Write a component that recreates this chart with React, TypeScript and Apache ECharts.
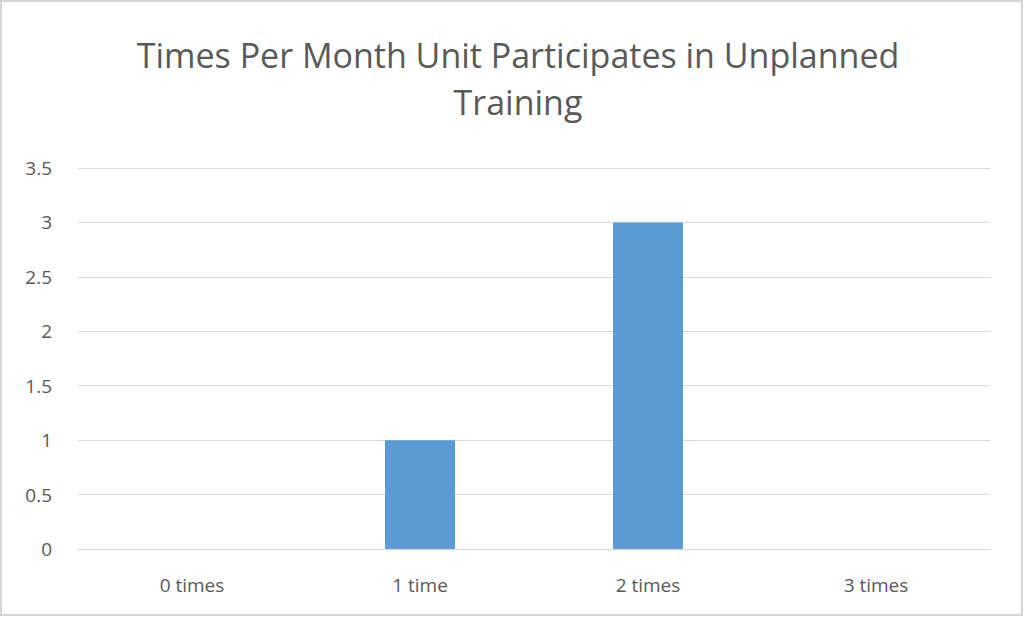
import React, { useEffect, useRef } from "react";
import * as echarts from "echarts";

const categories = ["0 times", "1 time", "2 times", "3 times"];
const values = [0, 1, 3, 0];
const titleLines = ["Times Per Month Unit Participates in Unplanned", "Training"];

export default function App() {
  const ref = useRef<HTMLDivElement>(null);
  useEffect(() => {
    document.body.style.margin = "0";
    const chart = echarts.init(ref.current!, null, { renderer: "svg" });
    chart.setOption({
      animation: false,
      backgroundColor: "#ffffff",
      graphic: [
        {
          type: "rect",
          z: -10,
          silent: true,
          shape: { x: 1, y: 1, width: 1021, height: 614 },
          style: { fill: "none", stroke: "#d4d4d4", lineWidth: 2 },
        },
      ],
      title: {
        text: titleLines.join("\n"),
        left: 513,
        top: 26,
        textAlign: "center",
        textStyle: {
          fontFamily: "Open Sans",
          fontSize: 34,
          fontWeight: "normal",
          color: "#595959",
          lineHeight: 47,
        },
      },
      grid: { left: 78, right: 34, top: 168, bottom: 68 },
      xAxis: {
        type: "category",
        data: categories,
        axisLine: { lineStyle: { color: "#d9d9d9", width: 1 } },
        axisTick: { show: false },
        axisLabel: { color: "#595959", fontSize: 19, fontFamily: "Open Sans", margin: 26 },
      },
      yAxis: {
        type: "value",
        min: 0,
        max: 3.5,
        interval: 0.5,
        axisLine: { show: false },
        axisTick: { show: false },
        axisLabel: { color: "#595959", fontSize: 19, fontFamily: "Open Sans", margin: 26 },
        splitLine: { lineStyle: { color: "#d9d9d9", width: 1 } },
      },
      series: [
        {
          type: "bar",
          data: values,
          barWidth: 70,
          itemStyle: { color: "#5b9bd5" },
        },
      ],
    });
    return () => chart.dispose();
  }, []);
  return (
    <div
      ref={ref}
      style={{ position: "absolute", left: 0, top: 0, width: 1024, height: 617 }}
    />
  );
}
